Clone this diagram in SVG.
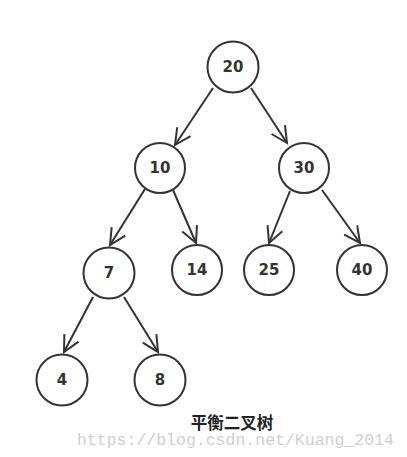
<svg xmlns="http://www.w3.org/2000/svg" width="407" height="457" viewBox="0 0 407 457">
<defs>
<marker id="arr" markerUnits="userSpaceOnUse" markerWidth="24" markerHeight="24" viewBox="-20 -12 24 24" refX="0" refY="0" orient="auto">
<path d="M-16,-8 L0,0 L-16,8" fill="none" stroke="#333" stroke-width="2" stroke-linejoin="miter"/>
</marker>
</defs>
<style>
.n circle{fill:#fff;stroke:#333;stroke-width:2}
.n text{font-family:"DejaVu Sans",sans-serif;font-weight:bold;font-size:15px;fill:#333;text-anchor:middle;dominant-baseline:central}
.e line{stroke:#333;stroke-width:2;marker-end:url(#arr)}
</style>
<rect width="407" height="457" fill="#fff"/>
<g id="edges" class="e">
<line x1="213" y1="88" x2="175" y2="145"/>
<line x1="251" y1="88" x2="287" y2="143"/>
<line x1="145" y1="189" x2="110" y2="245"/>
<line x1="173" y1="190" x2="196" y2="243"/>
<line x1="290" y1="191" x2="269" y2="243"/>
<line x1="322" y1="190" x2="360" y2="243"/>
<line x1="93" y1="297" x2="64" y2="352"/>
<line x1="124" y1="297" x2="158" y2="352"/>
</g>
<g id="n20" class="n"><circle cx="233" cy="67" r="25.5"/><text x="233" y="67">20</text></g>
<g id="n10" class="n"><circle cx="160" cy="168" r="25"/><text x="160" y="168">10</text></g>
<g id="n30" class="n"><circle cx="304" cy="168" r="25"/><text x="304" y="168">30</text></g>
<g id="n7" class="n"><circle cx="109" cy="273" r="25.5"/><text x="109" y="273">7</text></g>
<g id="n14" class="n"><circle cx="197" cy="270" r="25"/><text x="197" y="270">14</text></g>
<g id="n25" class="n"><circle cx="269" cy="270" r="25"/><text x="269" y="270">25</text></g>
<g id="n40" class="n"><circle cx="362" cy="270" r="25"/><text x="362" y="270">40</text></g>
<g id="n4" class="n"><circle cx="62" cy="380" r="25.5"/><text x="62" y="380">4</text></g>
<g id="n8" class="n"><circle cx="160" cy="380" r="25.5"/><text x="160" y="380">8</text></g>
<text x="77" y="445" font-family="'Liberation Mono',monospace" font-size="16.5" fill="#cfcfcf">https://blog.csdn.net/Kuang_2014</text>
<text x="232" y="429" font-family="'Noto Sans CJK SC',sans-serif" font-weight="bold" font-size="16.5" fill="#222" text-anchor="middle">平衡二叉树</text>
</svg>
